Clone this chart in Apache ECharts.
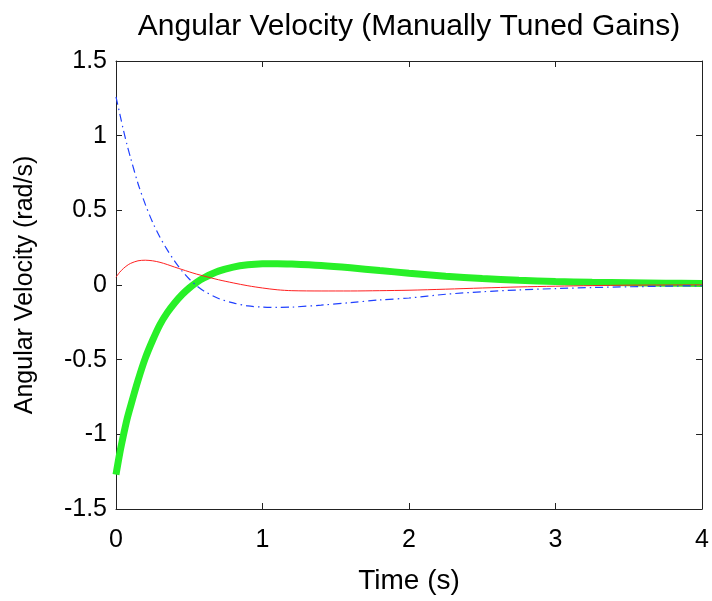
<!DOCTYPE html>
<html>
<head>
<meta charset="utf-8">
<script src="https://cdn.jsdelivr.net/npm/echarts@6/dist/echarts.min.js"></script>
<style>html,body{margin:0;padding:0;background:#fff}#c{width:712px;height:601px}</style>
</head>
<body>
<div id="c"></div>
<script>
var time = [0, 0.025, 0.05, 0.075, 0.1, 0.15, 0.2, 0.25, 0.3, 0.35, 0.4, 0.45, 0.5, 0.55, 0.6, 0.7, 0.8, 0.9, 1.0, 1.1, 1.2, 1.4, 1.6, 1.8, 2.0, 2.25, 2.5, 2.75, 3.0, 3.25, 3.5, 3.75, 4.0];
var greenVals = [-1.27, -1.13, -1.01, -0.9, -0.81, -0.64, -0.49, -0.37, -0.265, -0.185, -0.12, -0.065, -0.02, 0.018, 0.048, 0.093, 0.12, 0.135, 0.142, 0.143, 0.14, 0.13, 0.115, 0.097, 0.079, 0.059, 0.043, 0.031, 0.023, 0.018, 0.015, 0.012, 0.01];
var redVals = [0.052, 0.085, 0.11, 0.13, 0.145, 0.162, 0.166, 0.162, 0.152, 0.137, 0.12, 0.104, 0.088, 0.073, 0.06, 0.035, 0.014, -0.005, -0.02, -0.032, -0.038, -0.04, -0.04, -0.038, -0.035, -0.028, -0.02, -0.013, -0.008, -0.004, -0.001, 0.0, 0.001];
var blueVals = [1.26, 1.15, 1.04, 0.94, 0.85, 0.68, 0.54, 0.42, 0.32, 0.235, 0.16, 0.095, 0.04, -0.005, -0.04, -0.09, -0.12, -0.14, -0.148, -0.15, -0.148, -0.135, -0.118, -0.1, -0.087, -0.062, -0.045, -0.033, -0.024, -0.017, -0.012, -0.008, -0.005];
var xTicks = {min: 0, max: 4, interval: 1};
var yTicks = {min: -1.5, max: 1.5, interval: 0.5};

function pairs(vals) { return time.map(function (t, i) { return [t, vals[i]]; }); }

var font = 'Liberation Sans, Arial, Helvetica, sans-serif';
var axisLine = {show: true, onZero: false, lineStyle: {color: '#222', width: 1}};
var tick = {show: true, inside: true, length: 6, lineStyle: {color: '#222', width: 1}};

var chart = echarts.init(document.getElementById('c'), null, {renderer: 'canvas'});
chart.setOption({
  animation: false,
  backgroundColor: '#fff',
  title: {
    text: 'Angular Velocity (Manually Tuned Gains)',
    left: 404, top: 7, textAlign: 'center',
    textStyle: {fontFamily: font, fontSize: 30, fontWeight: 'normal', color: '#000'}
  },
  grid: {left: 116, right: 7, top: 61, bottom: 92, containLabel: false},
  xAxis: [{
    type: 'value', min: xTicks.min, max: xTicks.max, interval: xTicks.interval,
    position: 'bottom',
    name: 'Time (s)', nameLocation: 'middle', nameGap: 58,
    nameTextStyle: {fontFamily: font, fontSize: 28, color: '#000'},
    axisLine: axisLine, axisTick: tick, splitLine: {show: false},
    axisLabel: {fontFamily: font, fontSize: 25, color: '#000', margin: 19}
  }, {
    type: 'value', min: xTicks.min, max: xTicks.max, interval: xTicks.interval,
    position: 'top',
    axisLine: axisLine, axisTick: tick, splitLine: {show: false},
    axisLabel: {show: false}
  }],
  yAxis: [{
    type: 'value', min: yTicks.min, max: yTicks.max, interval: yTicks.interval,
    position: 'left',
    name: 'Angular Velocity (rad/s)', nameLocation: 'middle', nameGap: 78,
    nameTextStyle: {fontFamily: font, fontSize: 25, color: '#000'},
    axisLine: axisLine, axisTick: tick, splitLine: {show: false},
    axisLabel: {fontFamily: font, fontSize: 25, color: '#000', margin: 9}
  }, {
    type: 'value', min: yTicks.min, max: yTicks.max, interval: yTicks.interval,
    position: 'right',
    axisLine: axisLine, axisTick: tick, splitLine: {show: false},
    axisLabel: {show: false}
  }],
  series: [{
    type: 'line', data: pairs(greenVals), smooth: 0.3, showSymbol: false,
    lineStyle: {color: '#28f028', width: 7}, z: 2
  }, {
    type: 'line', data: pairs(redVals), smooth: 0.3, showSymbol: false,
    lineStyle: {color: '#ff2020', width: 1}, z: 3
  }, {
    type: 'line', data: pairs(blueVals), smooth: 0.3, showSymbol: false,
    lineStyle: {color: '#2040ff', width: 1.2, type: [8, 4, 1.5, 4]}, z: 4
  }]
});
</script>
</body>
</html>
